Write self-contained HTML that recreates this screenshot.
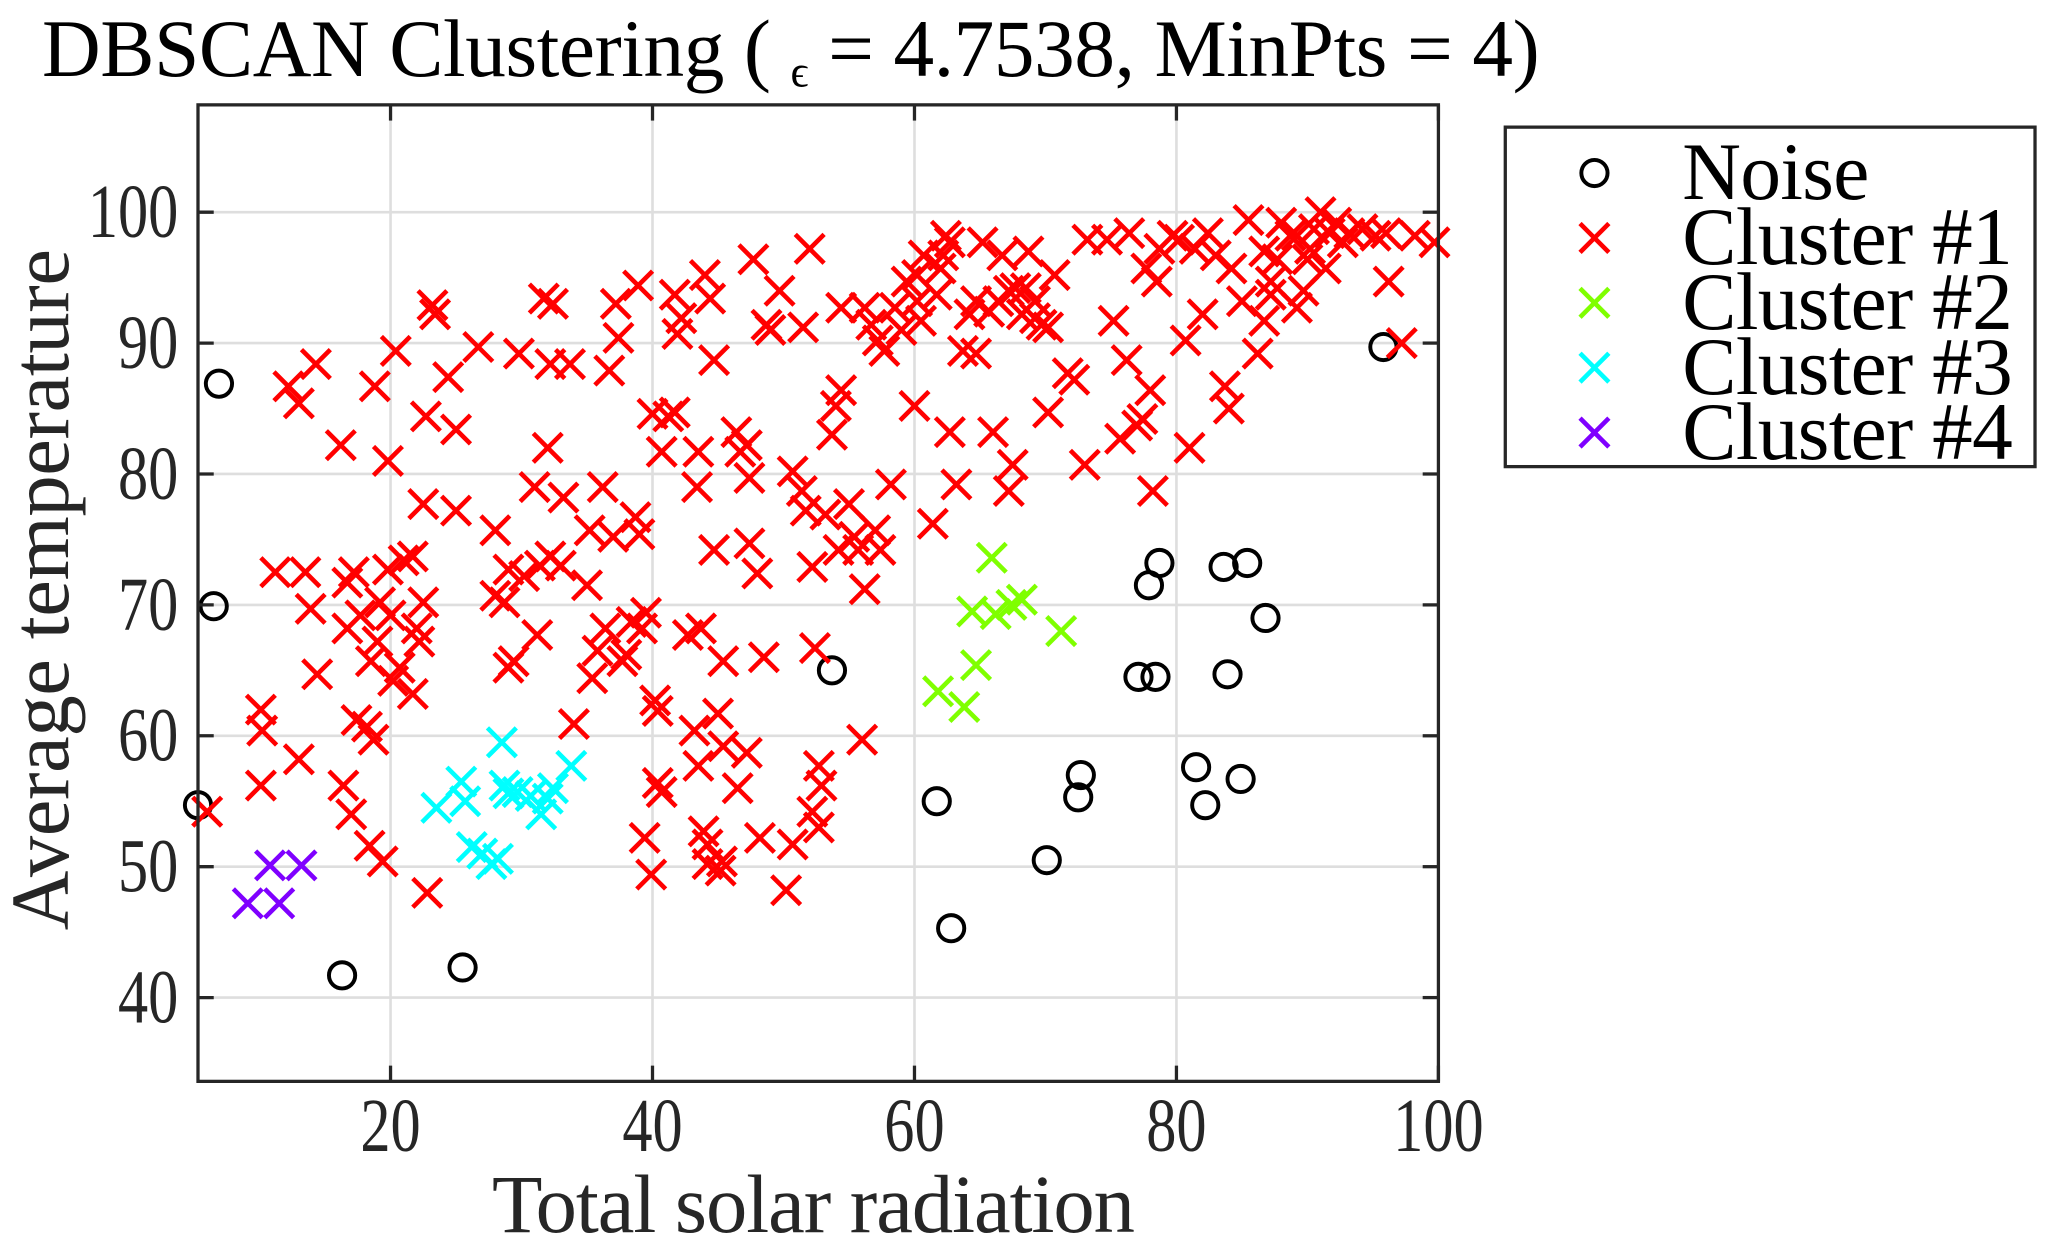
<!DOCTYPE html>
<html><head><meta charset="utf-8"><style>
html,body{margin:0;padding:0;background:#fff;}
svg{display:block;font-family:"Liberation Serif",serif;}
</style></head><body>
<svg id="chart" width="2056" height="1257" viewBox="0 0 1568 959" preserveAspectRatio="none" xmlns="http://www.w3.org/2000/svg">
<text x="32" y="58" font-size="62" fill="#000" letter-spacing="-0.3">DBSCAN Clustering ( <tspan font-size="34" dy="8">ϵ</tspan><tspan dy="-8"> = 4.7538, MinPts = 4)</tspan></text>
<g id="grid"></g>
<g id="marks"></g>
<rect x="151" y="80" width="946" height="745" fill="none" stroke="#262626" stroke-width="2.5"/>
<g id="ticks"></g>
<text x="620" y="940" font-size="63" text-anchor="middle" fill="#262626" letter-spacing="-0.8">Total solar radiation</text>
<text transform="translate(52,450) rotate(-90)" font-size="63" text-anchor="middle" fill="#262626" letter-spacing="-0.3">Average temperature</text>
<g>
<rect x="1148" y="97" width="404" height="259" fill="#fff" stroke="#262626" stroke-width="2.5"/>
<g id="legend-items"></g>
</g>
</svg>
<script>
const xTicks=[20,40,60,80,100];
const yTicks=[40,50,60,70,80,90,100];
const noiseX=[5.3,6.9,6.5,16.3,25.5,53.7,61.7,62.8,70.1,72.7,72.5,77.1,78.4,77.9,78.7,83.6,85.4,86.8,83.9,81.5,82.2,84.9,95.8];
const noiseY=[54.7,86.9,69.9,41.7,42.3,65,55,45.3,50.5,57,55.3,64.5,64.5,71.5,73.2,72.9,73.2,69,64.7,57.6,54.7,56.7,89.7];
const c2X=[65.9,64.4,66.2,67.4,68.2,71.2,64.7,63.8,61.8];
const c2Y=[73.6,69.5,69.3,70,70.4,68,65.4,62.2,63.4];
const c3X=[23.5,25.4,25.7,28.5,28.7,29,29.7,30.7,31.5,32.4,33.8,26.2,27.7,28.2,32,27];
const c3Y=[54.5,56.5,55,59.5,56.2,55.6,55.7,55.4,54,56,57.7,51.5,50.2,50.6,55.2,51];
const c4X=[9.1,11.5,10.8,13.2];
const c4Y=[47.2,47.2,50.1,50.1];
const c1=[[6,54.2],[10.1,62],[10.2,60.4],[10.1,56.2],[11.2,72.5],[12.2,86.7],[13,85.4],[13.5,72.5],[13.9,69.7],[13,58.2],[14.4,64.7],[14.3,88.4],
[16.2,82.2],[16.4,56.2],[17,54],[16.7,71.7],[17.2,72.5],[16.7,68.2],[17.7,69.2],[17.4,61.2],[18.2,60.7],[18.7,59.7],[19,67.2],[18.5,65.7],[19.2,70.2],[20,69.2],[19.8,72.7],[18.8,86.7],[18.4,51.6],[19.4,50.4],[19.8,81],[20.4,89.4],[20.2,64.2],[20.7,65.2],[21,73.4],[21.7,73.7],[21.7,63.2],[22,68.2],[22.2,67.2],[22.5,70.2],[22.7,84.4],[22.8,48],[23.2,92.9],[23.4,92.2],[22.5,77.7],[24.4,87.4],[25,83.4],[25,77.2],[26.7,89.7],[28,75.7],[28,70.7],[28.7,70.2],[29,72.7],[29,65.2],[29.4,65.7],[29.8,89.2],[30.2,72.2],[31,79],[31.2,67.7],[31.4,73],[32,82],[31.7,93.4],[32.4,93],[32.2,73.7],[32.2,88.4],[33,73],[33.2,78.2],[33.7,88.4],[34,60.9],[35,71.5],[35.2,75.7],[35.4,64.4],[35.8,66.5],[36.2,79],[36.4,68.2],[36.7,87.9],[37,75.2],[37.2,93],[37.4,90.4],[37.7,65.7],[38,66.2],[38.4,68.7],[38.7,76.7],[38.9,94.4],[39,75.4],[39.2,68.2],[39.5,69.4],[39.4,52.2],[39.9,49.4],[40.2,62.7],[40.4,61.9],[40,84.6],[40.7,81.7],[40.7,55.7],[40.4,56.4],[41.2,84.4],[41.7,84.7],[41.7,93.7],[41.9,90.7],[42.2,91.9],[42.7,67.7],[43.4,79],[43.5,81.7],[43.7,68.2],[43.2,60.4],[43.5,57.7],[43.9,52.7],[44.2,50.2],[44,95.2],[44.4,93.4],[44.7,74.2],[45,61.7],[45.3,50.4],[45.4,65.7],[44.7,88.7],[46.4,83.2],[46.7,81.7],[47.2,82.2],[47.4,79.7],[47.2,58.7],[47.7,96.4],[47.4,74.7],[48,72.4],[48.2,52.2],[48.5,66],[48.7,91.4],[49,91],[49.7,94],[50.2,48.2],[50.7,80.2],[51.5,91.2],[51.4,78.7],[51.7,77.2],[52,97.2],[52.2,54.2],[52.4,66.7],[52.7,57.7],[52.9,56.2],[52.7,53],[52.2,72.9],[53.2,76.9],[53.7,83],[54,85.2],[54.4,86.4],[54.4,92.7],[55,77.7],[55.4,75.2],[55.7,74.2],[56.2,71.2],[56,59.7],[56.2,92.7],[56.7,91.4],[57,75.7],[57.2,90.2],[57.7,89.4],[58.2,79.2],[58.5,92.7],[59,91],[59.4,94.7],[60,85.2],[60.2,93.2],[60.5,91.7],[60.7,96.7],[61.4,76.2],[61.7,93.7],[62,95.7],[62.4,98.2],[62.7,83.2],[63.2,79.2],[63.7,89.4],[64.2,92.2],[64.7,89.2],[65.2,97.7],[65.7,92.4],[66,83.2],[66.4,93.2],[66.7,96.7],[67.2,78.7],[67.5,80.7],[67.7,94.2],[68.2,92.2],[68.7,97],[69.2,93.2],[69.7,91.4],[70.2,91.2],[70.7,95.2],[70.2,84.7],[71.7,87.7],[72.2,87.2],[73,80.7],[73.2,97.9],[74.7,97.9],[75.2,91.7],[75.7,82.7],[76.2,88.7],[76.4,98.4],[77,83.7],[77.4,84.2],[77.7,95.7],[78,86.4],[78.2,78.7],[78.5,94.7],[78.7,97.2],[79.7,98.2],[80.2,97.9],[80.7,90.2],[81,82],[81.4,97.2],[82,92.2],[82.4,98.4],[83,96.7],[83.7,86.7],[84,85],[84.2,95.7],[85,93.2],[85.5,99.4],[86.2,89.2],[86.7,91.7],[87.2,94.7],[87.7,96.4],[88,99.2],[88.7,98.2],[89.2,92.7],[89.7,94],[90,96.4],[90.5,98.7],[91,100],[91.4,95.7],[91.7,98.4],[92.2,99.2],[92.7,97.7],[93.2,98.4],[94.2,98.7],[95.2,98.2],[96,98.4],[96.2,94.7],[97.2,90],[98.2,98.2],[99.7,97.7],[89.2,98.2],[90.2,97.2],[86.7,97],[87.2,93.7],[60.2,95.2],[62.2,96.7],[62.7,97.7],[64.7,93.2],[68.5,94.2],[69.2,91.9],[67.2,94],[57.4,74.2],[54.2,74.2],[46.5,56],[45.4,59.2],[44.2,51.7],[45.2,49.7],[50.7,51.7]];
const legendLabels=["Noise","Cluster #1","Cluster #2","Cluster #3","Cluster #4"];

const X0=151,X1=1097,Y0=80,Y1=825,XMIN=5.3,XMAX=100,YMIN=33.6,YMAX=108.2;
function sx(v){return X0+(v-XMIN)/(XMAX-XMIN)*(X1-X0);}
function sy(v){return Y1-(v-YMIN)/(YMAX-YMIN)*(Y1-Y0);}
const NS="http://www.w3.org/2000/svg";
function mk(tag,attrs,parent){const e=document.createElementNS(NS,tag);for(const k in attrs)e.setAttribute(k,attrs[k]);parent.appendChild(e);return e;}
const grid=document.getElementById('grid'),ticks=document.getElementById('ticks'),marks=document.getElementById('marks');
xTicks.forEach(t=>{const x=sx(t);
 if(t<XMAX){const g=mk('line',{x1:x,x2:x,y1:Y0,y2:Y1,stroke:'#dedede','stroke-width':2},grid);
 
 }
 mk('line',{x1:x,x2:x,y1:Y1,y2:Y1-12,stroke:'#262626','stroke-width':2.5},ticks);
 mk('line',{x1:x,x2:x,y1:Y0,y2:Y0+12,stroke:'#262626','stroke-width':2.5},ticks);
 const s=String(t);
 const l=mk('text',{x:x,y:Y1+53,'font-size':58,'text-anchor':'middle',fill:'#262626',textLength:s.length*23,lengthAdjust:'spacingAndGlyphs'},ticks);
 l.textContent=s;
 
 });
yTicks.forEach(t=>{const y=sy(t);
 const g=mk('line',{x1:X0,x2:X1,y1:y,y2:y,stroke:'#dedede','stroke-width':2},grid);
 
 
 mk('line',{x1:X0,x2:X0+12,y1:y,y2:y,stroke:'#262626','stroke-width':2.5},ticks);
 mk('line',{x1:X1,x2:X1-12,y1:y,y2:y,stroke:'#262626','stroke-width':2.5},ticks);
 const s=String(t);
 const l=mk('text',{x:X0-15,y:y+19,'font-size':58,'text-anchor':'end',fill:'#262626',textLength:s.length*23,lengthAdjust:'spacingAndGlyphs'},ticks);
 l.textContent=s;
 
 });
function cross(cx,cy,col,p,name){const s=11;
 const g=mk('path',{d:`M${cx-s},${cy-s}L${cx+s},${cy+s}M${cx-s},${cy+s}L${cx+s},${cy-s}`,stroke:col,'stroke-width':3.5,fill:'none'},p);
 
 }
function circ(cx,cy,p){const c=mk('circle',{cx:cx,cy:cy,r:10,stroke:'#000','stroke-width':3,fill:'none'},p);
 
 }
noiseX.forEach((v,i)=>circ(sx(v),sy(noiseY[i]),marks));
c1.forEach(p=>cross(sx(p[0]),sy(p[1]),'#ff0000',marks,'cluster1-point'));
c2X.forEach((v,i)=>cross(sx(v),sy(c2Y[i]),'#7fff00',marks,'cluster2-point'));
c3X.forEach((v,i)=>cross(sx(v),sy(c3Y[i]),'#00ffff',marks,'cluster3-point'));
c4X.forEach((v,i)=>cross(sx(v),sy(c4Y[i]),'#7f00ff',marks,'cluster4-point'));
const li=document.getElementById('legend-items');
const cols=[null,'#ff0000','#7fff00','#00ffff','#7f00ff'];
legendLabels.forEach((lab,i)=>{const y=132+i*49.5;
 if(i===0)circ(1216,y,li);else cross(1216,y,cols[i],li,'legend-marker');
 const t=mk('text',{x:1283,y:y+20,'font-size':62,fill:'#000','letter-spacing':-0.5},li);
 t.textContent=lab;
 
 });
</script>
</body></html>
